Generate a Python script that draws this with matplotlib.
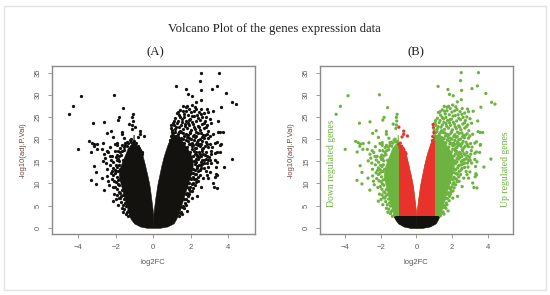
import numpy as np
import matplotlib
matplotlib.use('Agg')
import matplotlib.pyplot as plt
from matplotlib.patches import Rectangle

title = "Volcano Plot of the genes expression data"
x_ticks = [-4, -2, 0, 2, 4]
y_ticks = [0, 5, 10, 15, 20, 25, 30, 35]

mass_y = [0, 0.3, 1, 2, 3, 4, 5, 6, 7, 8, 9, 10, 11, 12, 13, 14, 15, 16, 17, 18, 19, 20, 21]
left_outer = [-0.35, -0.7, -1.02, -1.2, -1.3, -1.36, -1.42, -1.5, -1.56, -1.62, -1.68,
              -1.74, -1.8, -1.84, -1.8, -1.74, -1.65, -1.55, -1.45, -1.36, -1.16, -1.05, -1.05]
left_inner = [0, 0, 0, 0, -0.01, -0.03, -0.06, -0.09, -0.12, -0.15, -0.18,
              -0.22, -0.27, -0.32, -0.38, -0.43, -0.49, -0.55, -0.62, -0.72, -1.0, -1.05, -1.05]
right_inner = [0, 0, 0, 0, 0.01, 0.03, 0.06, 0.09, 0.12, 0.16, 0.19,
               0.23, 0.28, 0.33, 0.38, 0.43, 0.49, 0.55, 0.62, 0.7, 0.78, 0.9, 1.0]
right_outer = [0.35, 0.75, 1.08, 1.22, 1.32, 1.4, 1.48, 1.56, 1.63, 1.7, 1.78,
               1.85, 1.92, 2.0, 2.06, 2.1, 2.1, 2.05, 1.95, 1.8, 1.62, 1.48, 1.28]

# single genes outside the solid part
down_genes = [
    (-4.5, 25.6), (-4.26, 27.4), (-3.83, 29.8), (-2.07, 30), (-1.61, 27.1), (-1.08, 25.6),
    (-1.12, 24.9), (-1.81, 24.9), (-1.88, 24.3), (-2.6, 23.9), (-3.19, 23.6), (-3.99, 17.7),
    (-1.1, 24.1), (-1.3, 23.4), (-1.12, 23.2), (-0.98, 22.7), (-1.15, 22.4), (-2.25, 21.9),
    (-2.45, 21.3), (-1.68, 21.7), (-1.68, 21.1), (-0.71, 21.8), (-0.71, 21.1), (-0.8, 20.5),
    (-0.5, 20.7), (-2.13, 20.4), (-1.54, 20.2), (-1.19, 20), (-3.4, 19.5), (-3.26, 19.2),
    (-2.66, 19.2), (-3.14, 18.9), (-2.98, 19), (-3.17, 18.4), (-1.91, 19.2), (-2.04, 19),
    (-1.91, 18.6), (-2.3, 18.3), (-2.75, 17.7), (-3, 17.7), (-3.32, 17.1), (-2.48, 17.4),
    (-3.15, 14), (-3.05, 12.5), (-3.33, 10.7), (-3.05, 9.9), (-2.71, 11.2), (-2.45, 11.7),
    (-2.13, 12), (-2.61, 8.5), (-2.4, 10.5), (-2.36, 9.7), (-2.07, 7.6), (-2.13, 6),
    (-1.68, 4.4), (-1.5, 5.6), (-1.24, 5.2), (-1.45, 3.2), (-1.77, 6.7), (-1.6, 7.5),
    (-1.68, 8.6), (-1.86, 10.8), (-2.04, 12.3), (-2.13, 13.5), (-1.95, 11.5), (-2.3, 14.2),
    (-2.5, 14.6), (-2.55, 15.7), (-2.39, 17), (-2.2, 16.1), (-1.95, 15.4), (-2.05, 17.4),
    (-1.85, 14.2), (-1.7, 16.5), (-1.75, 18.1), (-1.55, 17.6), (-1.62, 15.2), (-1.48, 18.6),
    (-1.4, 19.3), (-1.25, 19.8), (-1.05, 19.5), (-0.9, 19.1), (-0.82, 18.4), (-0.7, 17.6),
    (-1.78, 13.2), (-1.88, 12.7), (-1.82, 9.6), (-1.75, 10.9), (-1.7, 7.2), (-1.55, 6.5),
    (-1.46, 4.9), (-1.35, 3.9), (-1.22, 2.9), (-1.58, 9.2), (-2.22, 11.1), (-2.02, 9.3),
]
# fringe hugging the left lobe
down_fringe = [
    (-1.72, 5.9), (-1.63, 5.2), (-1.55, 4.2), (-1.42, 3.6), (-1.34, 2.6), (-1.6, 3.5),
    (-1.82, 8.1), (-1.76, 7.9), (-1.9, 9.9), (-1.84, 6.8), (-1.93, 8.7), (-1.98, 10.4),
    (-2.03, 13.1), (-1.96, 12.8), (-2.0, 14.1), (-1.93, 13.8), (-2.12, 14.8), (-2.0, 15.9),
    (-1.9, 15.6), (-1.83, 15.1), (-1.94, 16.4), (-1.82, 16.2), (-1.76, 17), (-1.88, 17.4),
    (-1.66, 17.4), (-1.58, 18.2), (-1.68, 18.6), (-1.38, 18.4), (-1.32, 19.1), (-1.18, 19.4),
    (-0.98, 18.8), (-0.92, 18.1), (-0.75, 17.9), (-0.62, 17), (-0.58, 16.7), (-1.48, 19.2),
    (-2.18, 12.9), (-2.1, 10.6), (-2.16, 9.1), (-1.92, 7.4), (-1.98, 6.4), (-1.88, 5.2),
    (-2.26, 12.4), (-2.32, 16.1), (-2.6, 16.6), (-2.7, 15.1), (-2.25, 15.3), (-2.46, 13.2),
]
up_genes = [
    (2.52, 35), (3.48, 35), (2.48, 33.2), (3.42, 32), (3.12, 31.4), (1.22, 31.9), (1.77, 31.2),
    (2.54, 31), (3.9, 30.3), (1.86, 30.1), (2.07, 29.8), (2.52, 28.9), (2.3, 28.4), (4.22, 28.3),
    (4.41, 27.9), (3.62, 27.2), (1.81, 27.4), (2.04, 27.7), (1.56, 27.4), (1.24, 26), (1.33, 26.2),
    (2.57, 26.9), (2.87, 26.8), (3.19, 26.3), (2.93, 26.2), (3.44, 24.1), (3.46, 21.7), (3.72, 21.5),
    (3.58, 21.5), (4.18, 15.5), (3.79, 13.7), (3.4, 9), (3.23, 9.1), (3.37, 11.9), (3.3, 11.5),
    (3.33, 12.2), (3.58, 18.6), (3.37, 19.4), (3.37, 17.1), (3.55, 17), (3.28, 16.8), (3.28, 15.4),
    (3.4, 14.9), (3.32, 13.8), (3.16, 10.1), (2.79, 12.7), (2.84, 12), (2.93, 11.2), (2.48, 12),
    (2.31, 7.1), (2.2, 9.7), (1.78, 3.8), (1.42, 3.3), (2.04, 6.7), (1.68, 5.6), (1.96, 8.2),
    (2.4, 10.5), (2.57, 9.3), (2.66, 11.2), (3.1, 14.6), (2.87, 14.6), (3.6, 18.8), (3.28, 19.1),
    (1.72, 27.2), (2.21, 27.3), (1.45, 26.6), (1.9, 26.9), (2.15, 26.4), (2.45, 26.2), (2.71, 25.9),
    (1.36, 25.4), (1.62, 25.7), (1.85, 25.5), (2.06, 25.2), (2.34, 25.5), (2.62, 24.9), (2.83, 25),
    (1.18, 24.7), (1.52, 24.6), (1.75, 24.2), (1.97, 24.5), (2.26, 24.1), (2.48, 24.4), (2.75, 24.2),
    (3.01, 24.6), (1.05, 23.6), (1.28, 23.7), (1.46, 23.2), (1.67, 23.5), (1.92, 23.1), (2.13, 23.4),
    (2.38, 23), (2.6, 23.4), (2.88, 23.2), (3.1, 23.6), (0.96, 22.6), (1.17, 22.3), (1.38, 22.7),
    (1.58, 22.2), (1.8, 22.5), (2.02, 22.1), (2.24, 22.4), (2.5, 22.1), (2.72, 22.5), (2.94, 21.9),
    (1.07, 21.4), (1.3, 21.2), (1.5, 21.5), (1.72, 21.1), (1.94, 21.4), (2.16, 21), (2.41, 21.3),
    (2.63, 20.9), (2.85, 21.2), (3.16, 21.1), (3, 20.7), (0.92, 20.6), (1.12, 20.3), (1.34, 20.5),
    (1.56, 20.1), (1.78, 20.4), (2, 20), (2.22, 20.4), (2.47, 20), (2.7, 20.3), (0.98, 19.5),
    (1.24, 19.3), (1.44, 19.6), (1.66, 19.2), (1.87, 19.5), (2.09, 19.1), (2.32, 19.4), (2.56, 19),
    (2.79, 19.3), (3.04, 19), (1.18, 18.4), (1.4, 18.2), (1.6, 18.6), (1.82, 18.2), (2.04, 18.5),
    (2.27, 18.1), (2.5, 18.4), (2.66, 18), (2.92, 18.3), (1.52, 17.3), (1.75, 17.5), (1.96, 17.1),
    (2.18, 17.4), (2.42, 17), (2.6, 17.3), (2.83, 17), (3.08, 17.4), (1.7, 16.3), (1.9, 16.6),
    (2.12, 16.2), (2.35, 16.5), (2.55, 16.1), (2.74, 16.4), (2.98, 15.9), (1.95, 15.4), (2.15, 15.1),
    (2.38, 15.5), (2.6, 15.2), (2.8, 15.6), (3.02, 15.2), (1.98, 14.2), (2.2, 14.5), (2.42, 14.1),
    (2.62, 14.4), (2.1, 13.2), (2.32, 13.5), (2.5, 13), (2.7, 13.6), (2.02, 12.4), (2.25, 12.2),
    (2.38, 11.5), (1.95, 11.3), (2.15, 11), (1.88, 10.2), (2.05, 9.8), (1.82, 9.1), (1.74, 7.6),
    (1.86, 7.1), (1.62, 6.6), (1.52, 4.6), (1.38, 4.2), (1.6, 5),
]
# denser patches of the right lobe, x 0.9 to 2.6
up_dense = [
    (1.0, 22.1), (1.1, 23.1), (1.22, 22.8), (1.33, 24.2), (1.42, 21.9), (1.55, 23.8), (1.63, 20.7),
    (1.7, 22.9), (1.86, 23.7), (1.98, 21.7), (2.08, 23.8), (2.18, 22.8), (2.3, 21.6), (2.43, 22.7),
    (1.02, 20.9), (1.16, 21.7), (1.26, 20.8), (1.38, 21.6), (1.46, 20.3), (1.6, 21.4), (1.84, 21),
    (1.9, 20.2), (2.1, 20.6), (2.3, 20.6), (2.38, 19.9), (2.6, 20.5), (1.1, 19.8), (1.3, 19.9),
    (1.52, 19.2), (1.74, 19.8), (1.95, 19), (2.16, 19.7), (2.26, 18.9), (2.42, 18.9), (2.62, 19.5),
    (1.88, 18.9), (2.12, 18.6), (2.2, 17.9), (2.36, 18.6), (2.58, 17.7), (2.74, 18.4), (2.04, 17.7),
    (2.26, 17.2), (2.34, 16.2), (2.48, 16.7), (2.66, 16.7), (2.88, 16.2), (2.2, 16.7), (2.28, 15.6),
    (2.45, 15.9), (2.52, 14.9), (2.7, 15.4), (2.92, 15.2), (2.28, 14.9), (2.35, 13.9), (2.52, 14.2),
    (2.72, 14.6), (2.2, 13.1), (2.4, 12.7), (2.56, 13.4), (2.14, 12.4), (2.3, 12.1), (2.12, 11.4),
    (2.26, 11), (2.02, 10.9), (2.1, 10.2), (2.28, 10.4), (1.98, 9.2), (2.12, 9), (1.92, 8.7),
    (2.06, 8.3), (1.82, 7.9), (1.92, 7.6), (1.74, 6.6), (1.84, 6.1), (1.72, 5.2), (1.66, 4.4),
    (1.5, 3.6), (1.55, 3.1), (1.35, 2.7), (2.0, 26.1), (1.72, 26.4), (1.58, 26.3), (2.28, 26.7),
    (2.56, 25.6), (1.45, 24.9), (2.18, 25.3), (2.38, 24.7), (1.66, 24.9), (1.88, 24.4), (2.7, 23.7),
    (2.8, 22.8), (2.55, 21.4), (2.75, 20.9), (2.92, 20.2), (2.86, 18.8), (3.12, 18.2), (3.05, 16.6),
    (0.98, 21.5), (1.2, 20.6), (0.94, 23.3), (0.9, 19.7), (1.08, 24.2), (2.9, 13.7), (3.0, 12.6),
]

genes = np.vstack([np.array(down_genes), np.array(down_fringe), np.array(up_genes), np.array(up_dense)])

plt.rcParams['font.family'] = ['Liberation Sans', 'DejaVu Sans']
tick_col = '#5e5854'
frame_col = '#8c8a88'
green = '#6cb33f'
red = '#e8322b'
black = '#14120f'


def draw_mass(ax, color, clip=None):
    y = np.array(mass_y)
    parts = [ax.fill_betweenx(y, left_outer, left_inner, color=color, lw=0.4, zorder=2),
             ax.fill_betweenx(y, right_inner, right_outer, color=color, lw=0.4, zorder=2)]
    if clip is not None:
        rect = Rectangle((clip[0], clip[1]), clip[2], clip[3], transform=ax.transData)
        for p in parts:
            p.set_clip_path(rect)


def style_axes(ax):
    ax.set_xlim(-5.42, 5.42)
    ax.set_ylim(-1.4, 36.5)
    ax.set_xticks(x_ticks)
    ax.set_yticks(y_ticks)
    ax.tick_params(length=3, width=0.6, color=frame_col, labelcolor=tick_col, labelsize=5.5, pad=4)
    for lab in ax.get_yticklabels():
        lab.set_rotation(90)
        lab.set_va('center')
    for s in ax.spines.values():
        s.set_color(frame_col)
        s.set_linewidth(1.0)
    ax.set_xlabel('log2FC', fontsize=5.5, color=tick_col, labelpad=6)
    ax.set_ylabel('-log10(adj.P.Val)', fontsize=5.5, color='#6e4a40', labelpad=6)


fig = plt.figure(figsize=(5.5, 2.95), dpi=100)
fig.patches.append(Rectangle((4 / 550, 5 / 295), 542 / 550, 284 / 295, transform=fig.transFigure,
                             fill=False, ec='#e2e2e2', lw=1.0))
fig.text(274.5 / 550, 1 - 29 / 295, title, ha='center', va='center', family='Liberation Serif',
         fontsize=9.2, color='#222222')

axA = fig.add_axes([51.5 / 550, 61 / 295, 203.5 / 550, 168 / 295])
axB = fig.add_axes([319.7 / 550, 61 / 295, 193.3 / 550, 168 / 295])

# panel A, all black
draw_mass(axA, black)
axA.scatter(genes[:, 0], genes[:, 1], s=5.5, color=black, lw=0, zorder=3)
style_axes(axA)
fig.text(155 / 550, 1 - 52 / 295, '(A)', ha='center', va='center', family='Liberation Serif',
         fontsize=9.2, color='#222222')

# panel B, coloured by the cut offs |log2FC| = 1 and -log10(p) = 2.7
draw_mass(axB, green)
draw_mass(axB, red, clip=(-1, 2.7, 2, 40))
draw_mass(axB, black, clip=(-6, -2, 12, 4.7))
cols = np.where(np.abs(genes[:, 0]) >= 1, green, red)
axB.scatter(genes[:, 0], genes[:, 1], s=5.5, c=cols, lw=0, zorder=3)
style_axes(axB)
fig.text(415.5 / 550, 1 - 52 / 295, '(B)', ha='center', va='center', family='Liberation Serif',
         fontsize=9.2, color='#222222')

fig.text(331 / 550, 1 - 207 / 295, 'Down regulated genes', rotation=90, ha='center', va='bottom',
         family='Liberation Serif', fontsize=7, color=green)
fig.text(505 / 550, 1 - 207 / 295, 'Up regulated genes', rotation=90, ha='center', va='bottom',
         family='Liberation Serif', fontsize=7, color=green)

fig.savefig('out.png', dpi=100)
